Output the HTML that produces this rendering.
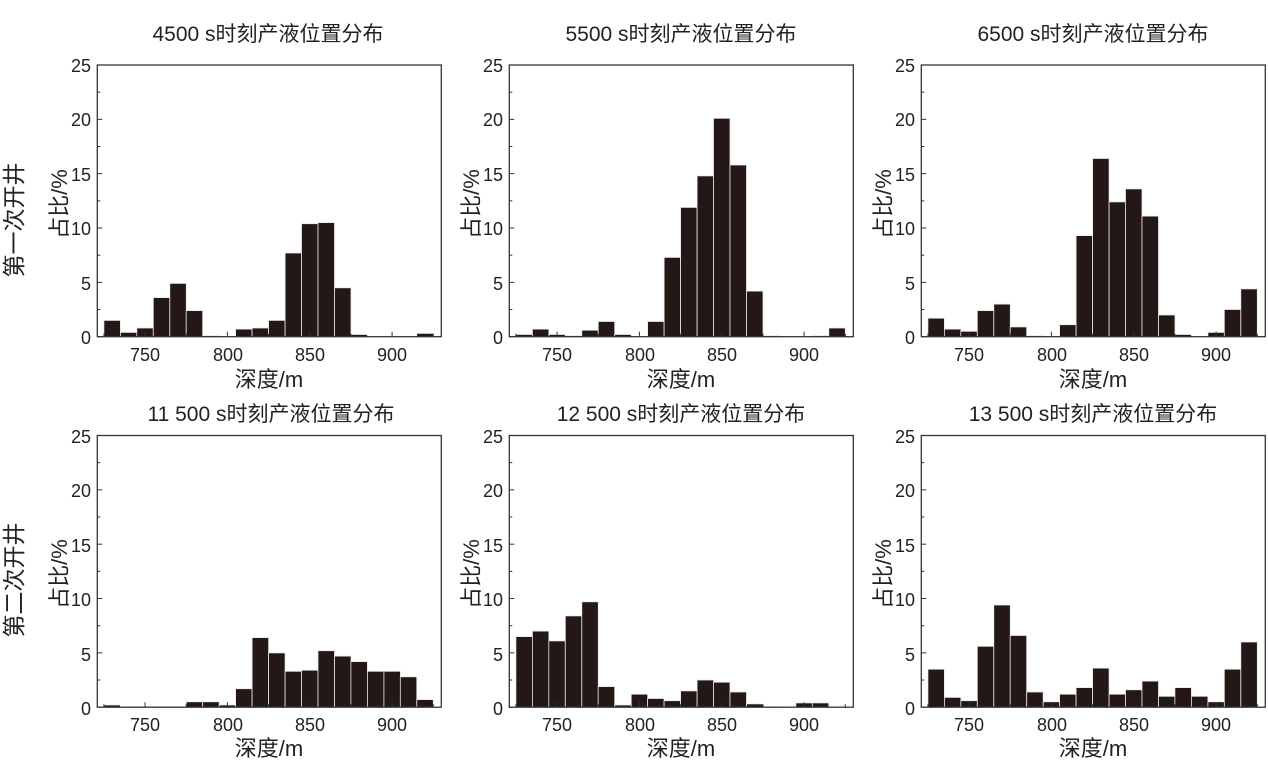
<!DOCTYPE html>
<html><head><meta charset="utf-8"><style>
body{margin:0;background:#fff;width:1268px;height:772px;overflow:hidden}
svg{display:block;font-family:"Liberation Sans","Noto Sans CJK SC",sans-serif}
</style></head><body>
<svg id="s" width="1268" height="772" xmlns="http://www.w3.org/2000/svg">
<g font-size="21" fill="#222" text-anchor="middle">
<text x="268" y="41">4500 s时刻产液位置分布</text>
<text x="681" y="41">5500 s时刻产液位置分布</text>
<text x="1093" y="41">6500 s时刻产液位置分布</text>
<text x="271" y="421">11 500 s时刻产液位置分布</text>
<text x="681" y="421">12 500 s时刻产液位置分布</text>
<text x="1093" y="421">13 500 s时刻产液位置分布</text>
</g>
<g font-size="22" fill="#222" text-anchor="middle">
<text x="269" y="387">深度/m</text>
<text x="681" y="387">深度/m</text>
<text x="1093" y="387">深度/m</text>
<text x="269" y="756">深度/m</text>
<text x="681" y="756">深度/m</text>
<text x="1093" y="756">深度/m</text>
<text transform="translate(67,204) rotate(-90)">占比/%</text>
<text transform="translate(479,204) rotate(-90)">占比/%</text>
<text transform="translate(891,204) rotate(-90)">占比/%</text>
<text transform="translate(67,574) rotate(-90)">占比/%</text>
<text transform="translate(479,574) rotate(-90)">占比/%</text>
<text transform="translate(891,574) rotate(-90)">占比/%</text>
</g>
<g font-size="23" fill="#222" text-anchor="middle">
<text transform="translate(22,220) rotate(-90)">第一次开井</text>
<text transform="translate(22,580) rotate(-90)">第二次开井</text>
</g>
<g font-size="18" fill="#222" text-anchor="end">
<text x="91" y="72">25</text><text x="91" y="126">20</text><text x="91" y="181">15</text><text x="91" y="235">10</text><text x="91" y="290">5</text><text x="91" y="344">0</text>
<text x="503" y="72">25</text><text x="503" y="126">20</text><text x="503" y="181">15</text><text x="503" y="235">10</text><text x="503" y="290">5</text><text x="503" y="344">0</text>
<text x="915" y="72">25</text><text x="915" y="126">20</text><text x="915" y="181">15</text><text x="915" y="235">10</text><text x="915" y="290">5</text><text x="915" y="344">0</text>
<text x="91" y="443">25</text><text x="91" y="497">20</text><text x="91" y="552">15</text><text x="91" y="606">10</text><text x="91" y="661">5</text><text x="91" y="715">0</text>
<text x="503" y="443">25</text><text x="503" y="497">20</text><text x="503" y="552">15</text><text x="503" y="606">10</text><text x="503" y="661">5</text><text x="503" y="715">0</text>
<text x="915" y="443">25</text><text x="915" y="497">20</text><text x="915" y="552">15</text><text x="915" y="606">10</text><text x="915" y="661">5</text><text x="915" y="715">0</text>
</g>
<g font-size="18" fill="#222" text-anchor="middle">
<text x="145" y="361">750</text><text x="228" y="361">800</text><text x="310" y="361">850</text><text x="392" y="361">900</text>
<text x="557" y="361">750</text><text x="640" y="361">800</text><text x="722" y="361">850</text><text x="804" y="361">900</text>
<text x="969" y="361">750</text><text x="1052" y="361">800</text><text x="1134" y="361">850</text><text x="1216" y="361">900</text>
<text x="145" y="731">750</text><text x="228" y="731">800</text><text x="310" y="731">850</text><text x="392" y="731">900</text>
<text x="557" y="731">750</text><text x="640" y="731">800</text><text x="722" y="731">850</text><text x="804" y="731">900</text>
<text x="969" y="731">750</text><text x="1052" y="731">800</text><text x="1134" y="731">850</text><text x="1216" y="731">900</text>
</g>
<g id="p"></g>
</svg>
<script>
var D=[
[1.5,0.4,0.8,3.6,4.9,2.4,0.1,0,0.7,0.8,1.5,7.7,10.4,10.5,4.5,0.2,0,0,0,0.3],
[0.2,0.7,0.2,0.1,0.6,1.4,0.2,0,1.4,7.3,11.9,14.8,20.1,15.8,4.2,0.1,0,0,0.1,0.8],
[1.7,0.7,0.5,2.4,3.0,0.9,0.1,0,1.1,9.3,16.4,12.4,13.6,11.1,2.0,0.2,0,0.4,2.5,4.4],
[0.2,0.05,0.05,0.05,0.05,0.5,0.5,0.2,1.7,6.4,5.0,3.3,3.4,5.2,4.7,4.2,3.3,3.3,2.8,0.7],
[6.5,7.0,6.1,8.4,9.7,1.9,0.2,1.2,0.8,0.6,1.5,2.5,2.3,1.4,0.3,0.05,0,0.4,0.4,0],
[3.5,0.9,0.6,5.6,9.4,6.6,1.4,0.5,1.2,1.8,3.6,1.2,1.6,2.4,1.0,1.8,1.0,0.5,3.5,6.0]];
var s='',k=1.647,H=271.7;
for(var i=0;i<6;i++){
 var L=97.3+(i%3)*412,T=(i<3?65:435.5),B=T+H,sy=H/25;
 for(var j=0;j<20;j++){var v=D[i][j];if(v<=0)continue;
  var x=L+(725+10*j-721)*k;var h=v*sy;
  s+='<rect x="'+x.toFixed(1)+'" y="'+(B-h).toFixed(1)+'" width="'+(10*k).toFixed(1)+'" height="'+h.toFixed(1)+'" fill="#231815" stroke="#e8e8e8" stroke-width="0.8"/>';}
 for(var t=0;t<=10;t++){var y=B-t*2.5*sy;var len=t%2?3:5;
  s+='<line x1="'+L+'" x2="'+(L+len)+'" y1="'+y+'" y2="'+y+'" stroke="#333"/>';}
 for(var m=725;m<=925;m+=25){var x=L+(m-721)*k;var len=(m%50==0)?5:3;
  s+='<line x1="'+x+'" x2="'+x+'" y1="'+B+'" y2="'+(B-len)+'" stroke="#333"/>';}
 s+='<rect x="'+L+'" y="'+T+'" width="344" height="'+H+'" fill="none" stroke="#333" stroke-width="1.3"/>';
}
document.getElementById('p').innerHTML=s;
</script>
</body></html>
